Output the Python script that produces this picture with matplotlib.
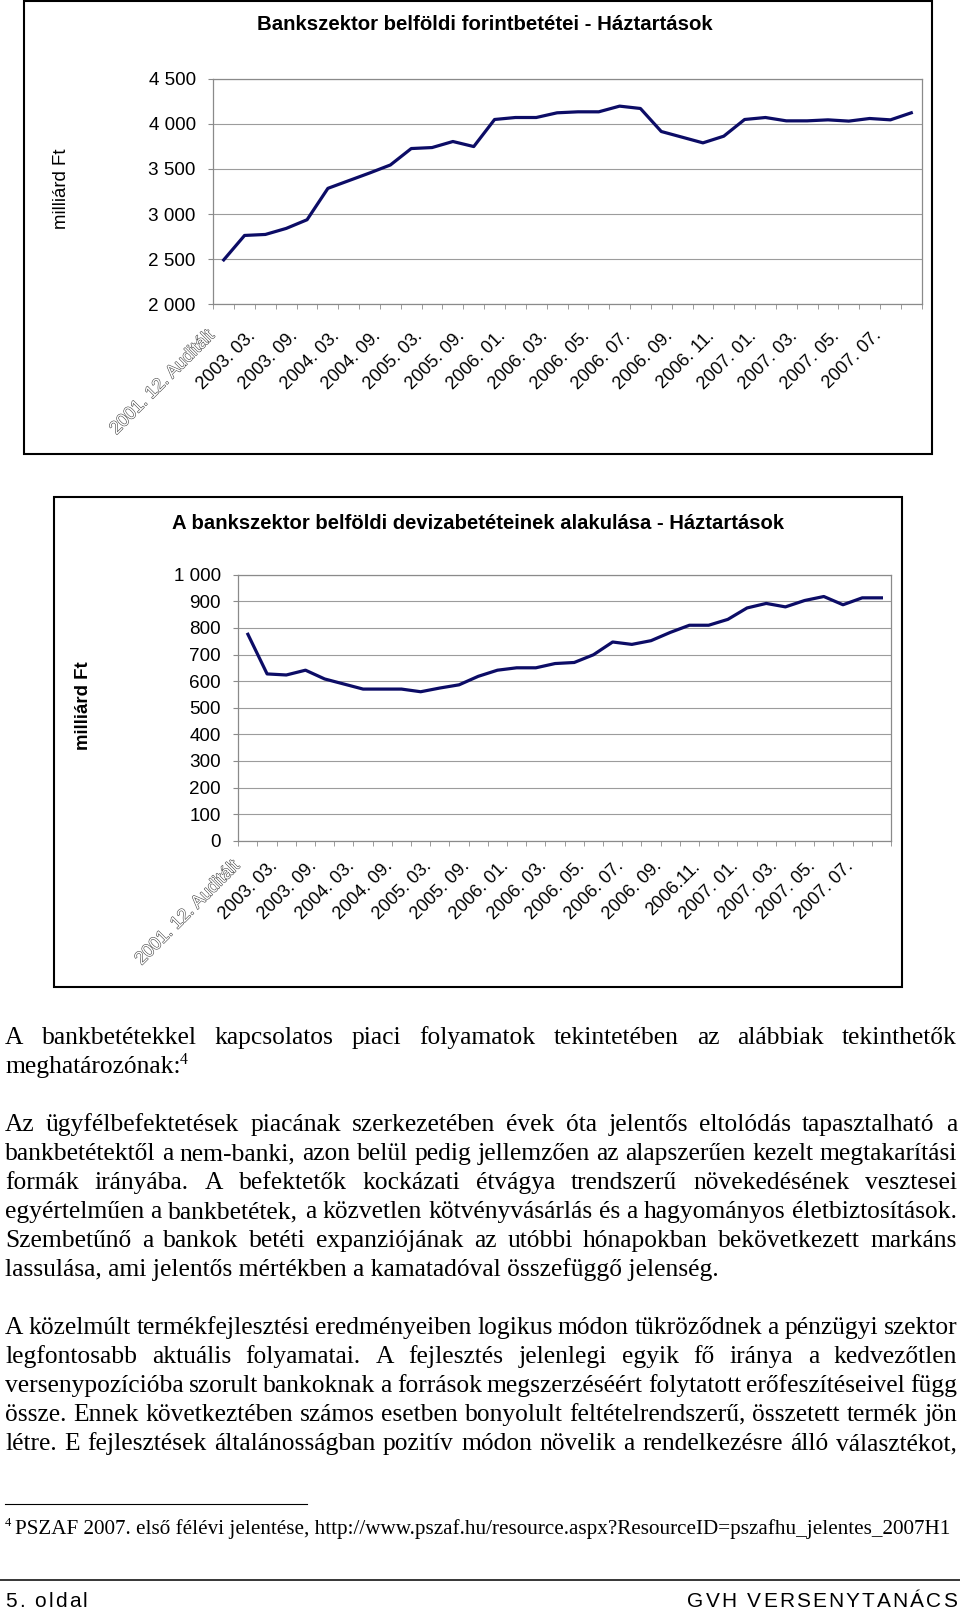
#!/usr/bin/env python3
"""Page 5 of the GVH report: two household deposit charts plus body text."""

import numpy as np
import matplotlib
matplotlib.use("Agg")
import matplotlib.pyplot as plt
import matplotlib.patheffects as pe
from matplotlib.lines import Line2D
from matplotlib.patches import Rectangle
from matplotlib.ticker import FixedLocator, FuncFormatter
from matplotlib.transforms import ScaledTranslation

W, H, DPI = 960, 1613, 100

# ── data ─────────────────────────────────────────────────────────────────────

forint_values = [2492, 2763, 2774, 2841, 2937, 3285, 3370, 3455, 3544, 3726,
                 3737, 3804, 3748, 4048, 4070, 4070, 4122, 4133, 4133, 4196,
                 4170, 3915, 3852, 3789, 3863, 4048, 4070, 4033, 4033, 4044,
                 4030, 4059, 4044, 4122]
deviza_values = [776, 627, 623, 641, 608, 589, 570, 570, 570, 560,
                 574, 586, 618, 641, 650, 650, 666, 670, 699, 747,
                 738, 752, 783, 810, 810, 832, 875, 892, 879, 903,
                 918, 887, 913, 913]

forint_labels = ["2001. 12. Auditált", "2003. 03.", "2003. 09.", "2004. 03.",
                 "2004. 09.", "2005. 03.", "2005. 09.", "2006. 01.", "2006. 03.",
                 "2006. 05.", "2006. 07.", "2006. 09.", "2006. 11.", "2007. 01.",
                 "2007. 03.", "2007. 05.", "2007. 07."]
deviza_labels = ["2001. 12. Auditált", "2003. 03.", "2003. 09.", "2004. 03.",
                 "2004. 09.", "2005. 03.", "2005. 09.", "2006. 01.", "2006. 03.",
                 "2006. 05.", "2006. 07.", "2006. 09.", "2006.11.", "2007. 01.",
                 "2007. 03.", "2007. 05.", "2007. 07."]

forint_yticks = [2000, 2500, 3000, 3500, 4000, 4500]
deviza_yticks = [0, 100, 200, 300, 400, 500, 600, 700, 800, 900, 1000]

forint_title = "Bankszektor belföldi forintbetétei - Háztartások"
deviza_title = "A bankszektor belföldi devizabetéteinek alakulása - Háztartások"
ylabel_text = "milliárd Ft"

para1 = ["A bankbetétekkel kapcsolatos piaci folyamatok tekintetében az alábbiak tekinthetők",
         "meghatározónak:"]
para2 = ["Az ügyfélbefektetések piacának szerkezetében évek óta jelentős eltolódás tapasztalható a",
         "bankbetétektől a nem-banki, azon belül pedig jellemzően az alapszerűen kezelt megtakarítási",
         "formák irányába. A befektetők kockázati étvágya trendszerű növekedésének vesztesei",
         "egyértelműen a bankbetétek, a közvetlen kötvényvásárlás és a hagyományos életbiztosítások.",
         "Szembetűnő a bankok betéti expanziójának az utóbbi hónapokban bekövetkezett markáns",
         "lassulása, ami jelentős mértékben a kamatadóval összefüggő jelenség."]
para3 = ["A közelmúlt termékfejlesztési eredményeiben logikus módon tükröződnek a pénzügyi szektor",
         "legfontosabb aktuális folyamatai. A fejlesztés jelenlegi egyik fő iránya a kedvezőtlen",
         "versenypozícióba szorult bankoknak a források megszerzéséért folytatott erőfeszítéseivel függ",
         "össze. Ennek következtében számos esetben bonyolult feltételrendszerű, összetett termék jön",
         "létre. E fejlesztések általánosságban pozitív módon növelik a rendelkezésre álló választékot,"]
footnote_text = "PSZAF 2007. első félévi jelentése, http://www.pszaf.hu/resource.aspx?ResourceID=pszafhu_jelentes_2007H1"
footer_left = "5. oldal"
footer_right = "GVH VERSENYTANÁCS"

# ── style ────────────────────────────────────────────────────────────────────

NAVY = "#0c0c66"
GRID = "#9c9c9c"
SANS = "Liberation Sans"
SERIF = "Liberation Serif"

fig = plt.figure(figsize=(W / DPI, H / DPI), dpi=DPI)
fig.patch.set_facecolor("white")
renderer = fig.canvas.get_renderer()


def fx(x):
    return x / W


def fy(y):
    return 1 - y / H


def text_width(s, size, **kw):
    t = fig.text(0, 0, s, fontsize=size, **kw)
    w = t.get_window_extent(renderer=renderer).width
    t.remove()
    return w


def fit_size(s, target, **kw):
    return 10 * target / text_width(s, 10, **kw)


def draw_box(x0, y0, x1, y1):
    fig.patches.append(Rectangle((fx(x0), fy(y1)), fx(x1) - fx(x0), fy(y0) - fy(y1),
                                 transform=fig.transFigure, fill=False,
                                 edgecolor="black", lw=1.5))


def draw_chart(rect, values, labels, yticks, label_dx, label_dy):
    l, t, r, b = rect
    ax = fig.add_axes([fx(l), fy(b), fx(r) - fx(l), fy(t) - fy(b)])
    x = np.arange(len(values))
    ax.plot(x, values, color=NAVY, lw=2.3, solid_joinstyle="round", zorder=3)
    ax.set_xlim(-0.5, len(values) - 0.5)
    ax.set_ylim(yticks[0], yticks[-1])

    for s in ax.spines.values():
        s.set_color("#8a8a8a")
        s.set_linewidth(0.9)
    ax.yaxis.grid(True, color=GRID, lw=0.8)
    ax.set_axisbelow(True)

    ax.set_yticks(yticks)
    ax.yaxis.set_major_formatter(FuncFormatter(lambda v, p: f"{int(v):,}".replace(",", " ")))
    ax.tick_params(axis="y", direction="out", length=3.6, color="#8a8a8a",
                   labelsize=13.6, pad=9, labelfontfamily=SANS)

    # boundary ticks between categories, labels on every second category
    ax.xaxis.set_major_locator(FixedLocator([]))
    ax.xaxis.set_minor_locator(FixedLocator(np.arange(len(values) + 1) - 0.5))
    ax.tick_params(axis="x", which="minor", direction="out", length=3.6, color="#8a8a8a")
    off = ScaledTranslation(label_dx / DPI, -label_dy / DPI, fig.dpi_scale_trans)
    for i, lab in enumerate(labels):
        kw = dict(transform=ax.get_xaxis_transform() + off, rotation=45,
                  ha="right", va="top", rotation_mode="anchor",
                  fontsize=13, family=SANS, clip_on=False)
        if i == 0:
            ax.text(2 * i, 0, lab, color="white",
                    path_effects=[pe.withStroke(linewidth=0.8, foreground="#444444")], **kw)
        else:
            ax.text(2 * i, 0, lab, color="black", **kw)
    return ax


# ── charts ───────────────────────────────────────────────────────────────────

draw_box(24, 1, 932, 454)
draw_chart((213.3, 78.7, 921.7, 304.3), forint_values, forint_labels,
           forint_yticks, -18, 23)
fig.text(fx(485), fy(24), forint_title, ha="center", va="center", family=SANS,
         weight="bold", fontsize=fit_size(forint_title, 455, family=SANS, weight="bold"))
fig.text(fx(62), fy(189), ylabel_text, ha="center", va="center", rotation=90,
         family=SANS, fontsize=13.4)

draw_box(54, 497, 902, 987)
draw_chart((238.3, 574.7, 891, 840.7), deviza_values, deviza_labels,
           deviza_yticks, -17, 17)
fig.text(fx(478), fy(524), deviza_title, ha="center", va="center", family=SANS,
         weight="bold", fontsize=fit_size(deviza_title, 611, family=SANS, weight="bold"))
fig.text(fx(84), fy(706), ylabel_text, ha="center", va="center", rotation=90,
         family=SANS, fontsize=13.4, weight="bold")

# ── body text ────────────────────────────────────────────────────────────────

LEFT, RIGHT, LEAD = 5, 957, 29
# largest size at which every justified line still keeps a narrow word gap
body_size = 30.0
for line in para1[:1] + para2[:-1] + para3:
    words = line.split()
    need = sum(text_width(w, 10, family=SERIF) for w in words) + (len(words) - 1) * 10 * 0.2 * DPI / 72
    body_size = min(body_size, 10 * (RIGHT - LEFT) / need)


def put_line(line, y, justify):
    if not justify:
        fig.text(fx(LEFT), fy(y), line, family=SERIF, fontsize=body_size, va="baseline")
        return text_width(line, body_size, family=SERIF)
    words = line.split()
    widths = [text_width(w, body_size, family=SERIF) for w in words]
    gap = (RIGHT - LEFT - sum(widths)) / (len(words) - 1)
    x = LEFT
    for w, ww in zip(words, widths):
        fig.text(fx(x), fy(y), w, family=SERIF, fontsize=body_size, va="baseline")
        x += ww + gap
    return RIGHT - LEFT


y = 1044
put_line(para1[0], y, True)
y += LEAD
w = put_line(para1[1], y, False)
fig.text(fx(LEFT + w - 1), fy(y - 9), "4", family=SERIF, fontsize=body_size * 0.62, va="baseline")

y = 1131
for i, line in enumerate(para2):
    put_line(line, y, i < len(para2) - 1)
    y += LEAD

y = 1334
for line in para3:
    put_line(line, y, True)
    y += LEAD

# footnote
fig.add_artist(Line2D([fx(5), fx(307)], [fy(1504), fy(1504)], color="black", lw=0.8))
fig.text(fx(5), fy(1526), "4", family=SERIF, fontsize=9, va="baseline")
fig.text(fx(15), fy(1534), footnote_text, family=SERIF, va="baseline",
         fontsize=fit_size(footnote_text, 930, family=SERIF))

# footer
fig.add_artist(Line2D([0, 1], [fy(1580), fy(1580)], color="black", lw=1.1))


def spaced_text(s, x, y, size, track, align="left"):
    widths = [text_width(c, size, family=SANS) if c != " " else size * 0.28 * DPI / 72 for c in s]
    total = sum(widths) + track * (len(s) - 1)
    if align == "right":
        x -= total
    for c, cw in zip(s, widths):
        if c != " ":
            fig.text(fx(x), fy(y), c, family=SANS, fontsize=size, va="baseline")
        x += cw + track


spaced_text(footer_left, 5, 1607, 15, 2.1)
spaced_text(footer_right, 957, 1607, 15, 2.1, align="right")

fig.savefig("out.png", dpi=DPI)
